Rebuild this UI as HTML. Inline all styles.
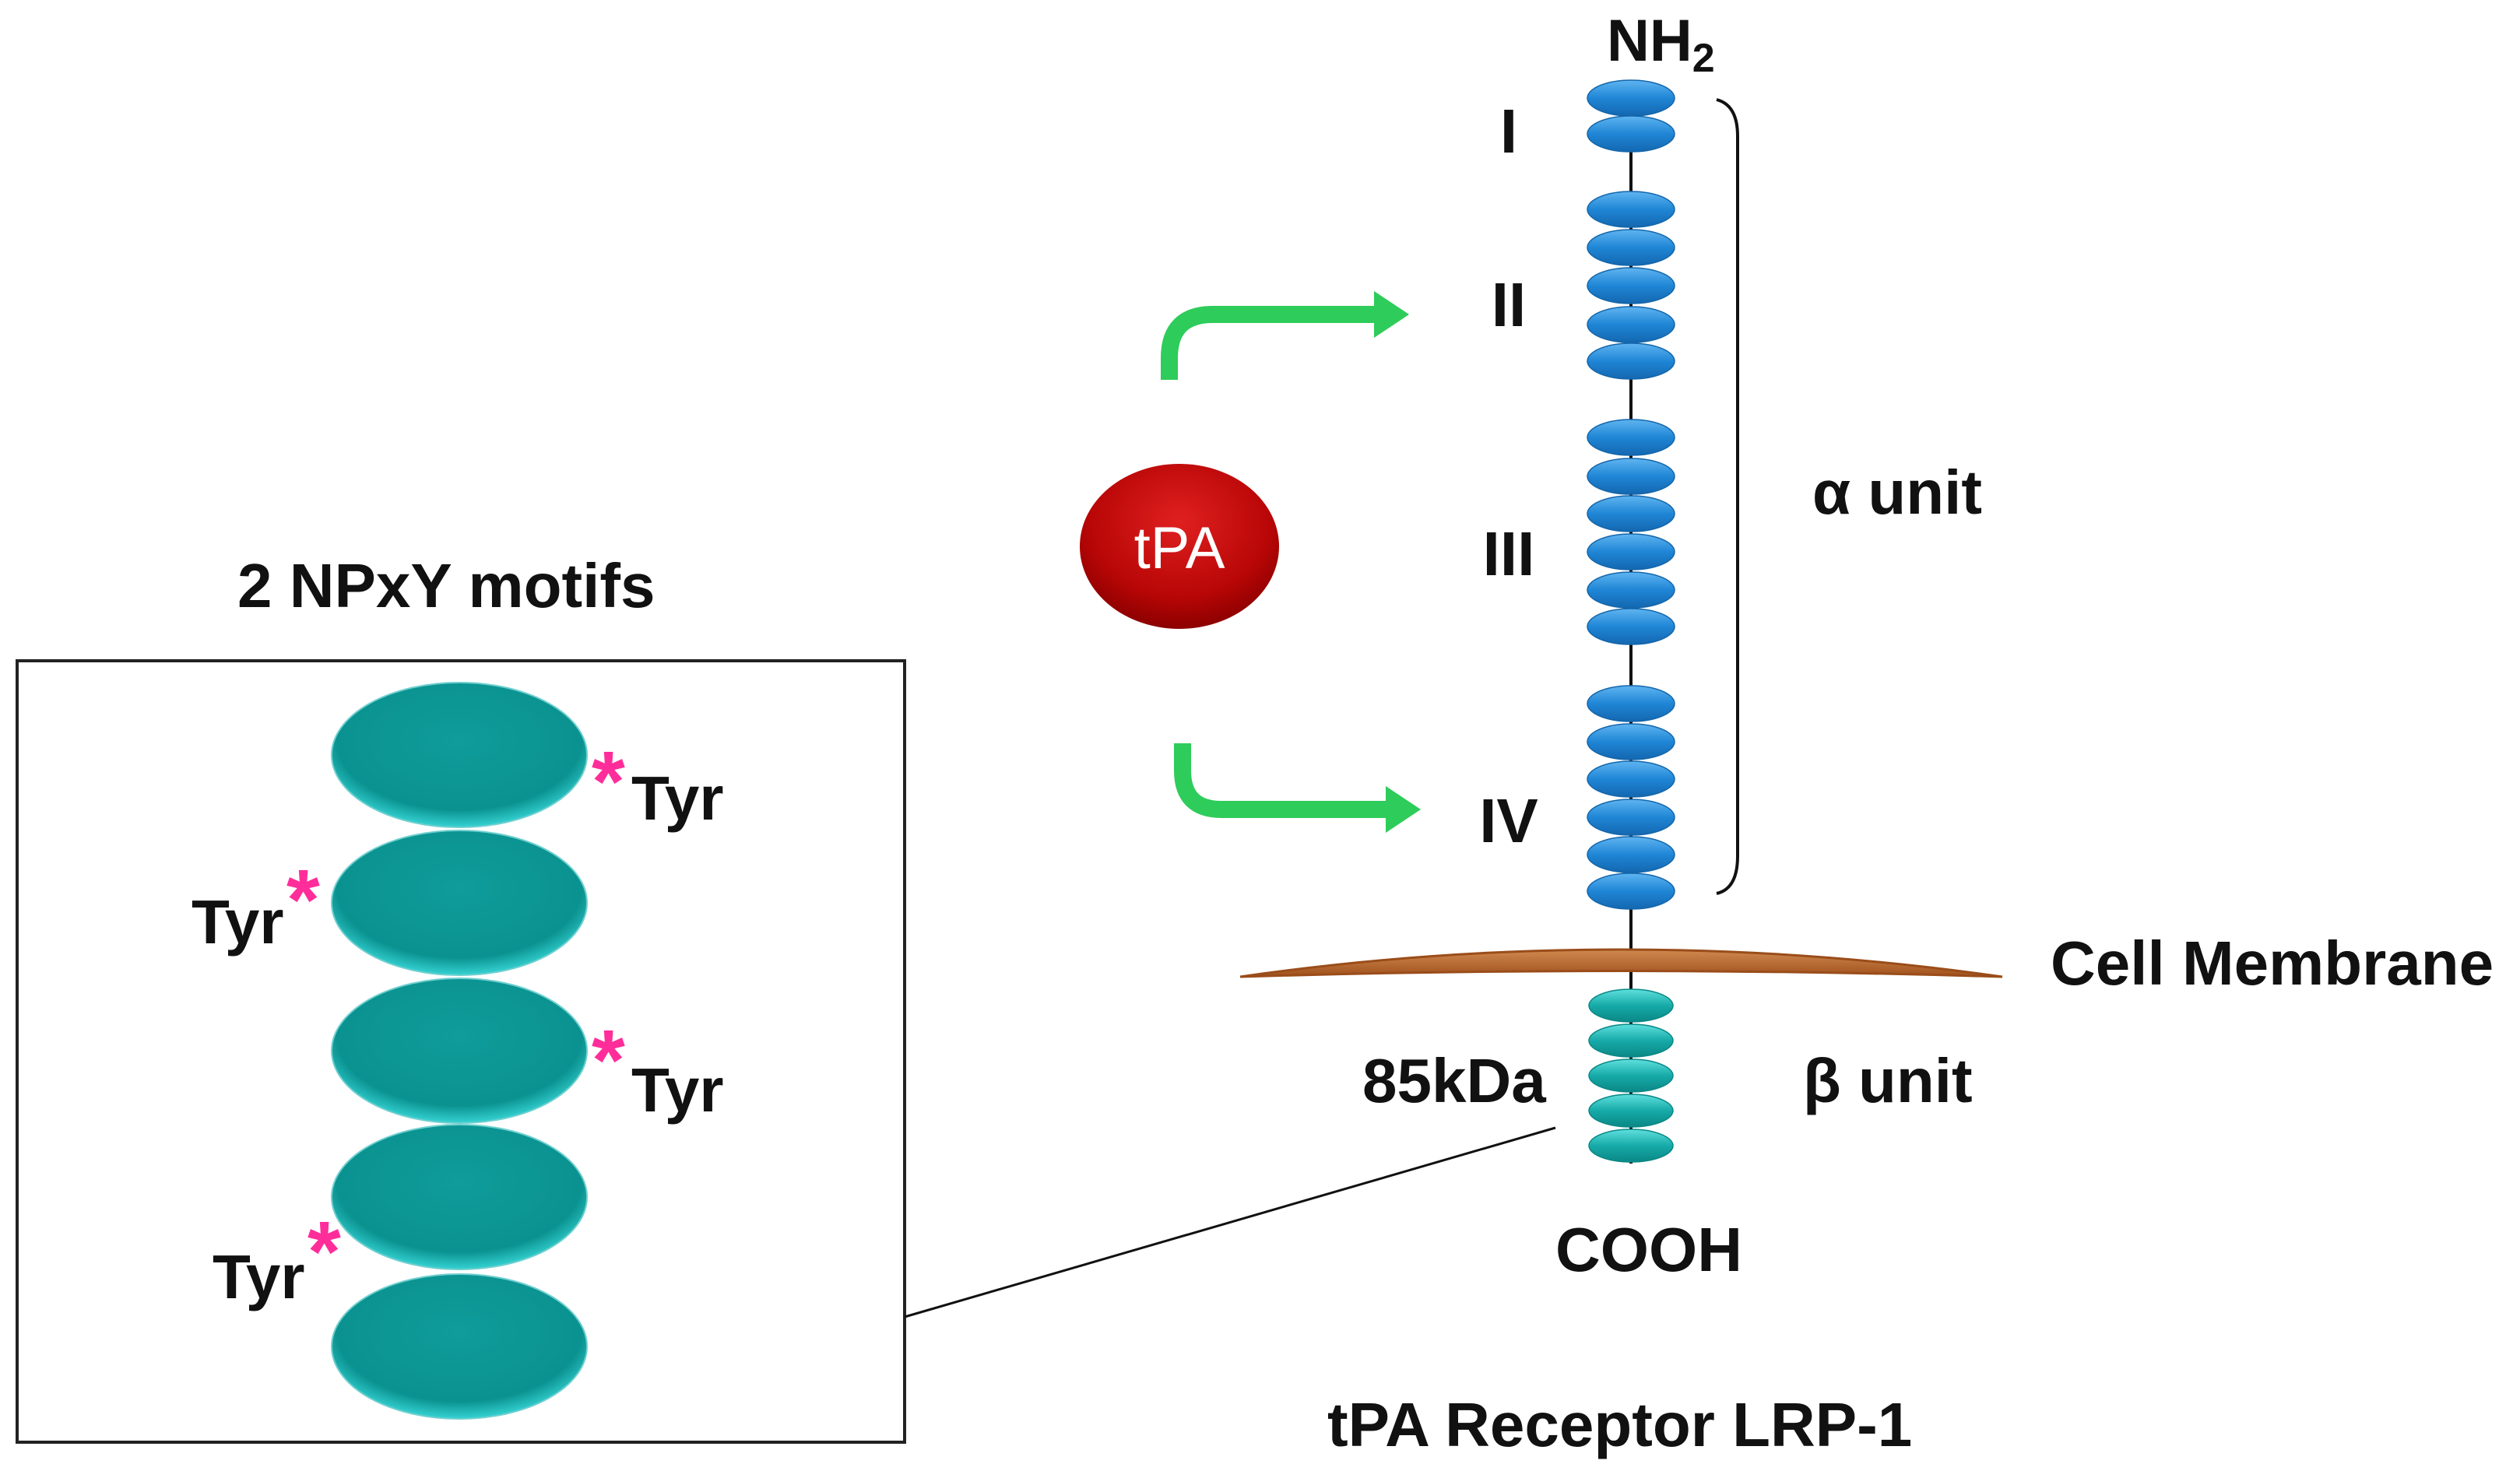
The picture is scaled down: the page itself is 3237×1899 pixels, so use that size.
<!DOCTYPE html>
<html><head><meta charset="utf-8"><style>
html,body{margin:0;padding:0;background:#fff;}
svg{display:block;}
text{font-family:"Liberation Sans",Arial,sans-serif;font-weight:bold;fill:#111;}
</style></head><body>
<svg width="3237" height="1899" viewBox="0 0 3237 1899" xmlns="http://www.w3.org/2000/svg">
<defs>
<radialGradient id="teal" cx="50%" cy="40%" r="60%"><stop offset="0" stop-color="#0f9c9a"/><stop offset="0.8" stop-color="#0a9290"/><stop offset="1" stop-color="#35d3d3"/></radialGradient>
<linearGradient id="blue" x1="0" y1="0" x2="0" y2="1"><stop offset="0" stop-color="#5fb4f0"/><stop offset="0.5" stop-color="#1f86d6"/><stop offset="1" stop-color="#1467b0"/></linearGradient>
<linearGradient id="tealS" x1="0" y1="0" x2="0" y2="1"><stop offset="0" stop-color="#5fe0de"/><stop offset="0.5" stop-color="#16aaa8"/><stop offset="1" stop-color="#0a8886"/></linearGradient>
<radialGradient id="red" cx="50%" cy="35%" r="65%"><stop offset="0" stop-color="#e02020"/><stop offset="0.7" stop-color="#b80606"/><stop offset="1" stop-color="#8c0000"/></radialGradient>
<linearGradient id="brown" x1="0" y1="0" x2="0" y2="1"><stop offset="0" stop-color="#d08a50"/><stop offset="1" stop-color="#a0501c"/></linearGradient>
</defs>

<rect x="22" y="849" width="1140" height="1004" fill="none" stroke="#222" stroke-width="4"/>
<text x="305" y="780" font-size="80">2 NPxY motifs</text>
<g fill="url(#teal)" stroke="#6fcfcf" stroke-width="2">
<ellipse cx="590" cy="970" rx="164" ry="93"/>
<ellipse cx="590" cy="1160" rx="164" ry="93"/>
<ellipse cx="590" cy="1350" rx="164" ry="93"/>
<ellipse cx="590" cy="1538" rx="164" ry="93"/>
<ellipse cx="590" cy="1730" rx="164" ry="93"/>
</g>
<g font-size="80">
<text x="811" y="1053">Tyr</text>
<text x="246" y="1212">Tyr</text>
<text x="811" y="1428">Tyr</text>
<text x="273" y="1668">Tyr</text>
</g>
<g font-size="110">
<text x="760" y="1042" style="fill:#ff2d9a">*</text>
<text x="368" y="1194" style="fill:#ff2d9a">*</text>
<text x="760" y="1400" style="fill:#ff2d9a">*</text>
<text x="395" y="1646" style="fill:#ff2d9a">*</text>
</g>
<line x1="1162" y1="1692" x2="1998" y2="1449" stroke="#111" stroke-width="3"/>

<line x1="2095" y1="110" x2="2095" y2="1495" stroke="#111" stroke-width="4"/>
<path d="M1593 1255 Q2080 1185 2572 1255 Q2080 1240 1593 1255 Z" fill="url(#brown)" stroke="#9a4d1a" stroke-width="3"/>
<g fill="url(#blue)" stroke="#1466aa" stroke-width="1.5">
<ellipse cx="2095" cy="126" rx="56" ry="23"/><ellipse cx="2095" cy="172" rx="56" ry="23"/>
<ellipse cx="2095" cy="269" rx="56" ry="23"/><ellipse cx="2095" cy="318" rx="56" ry="23"/><ellipse cx="2095" cy="367" rx="56" ry="23"/><ellipse cx="2095" cy="417" rx="56" ry="23"/><ellipse cx="2095" cy="464" rx="56" ry="23"/>
<ellipse cx="2095" cy="562" rx="56" ry="23"/><ellipse cx="2095" cy="612" rx="56" ry="23"/><ellipse cx="2095" cy="660" rx="56" ry="23"/><ellipse cx="2095" cy="709" rx="56" ry="23"/><ellipse cx="2095" cy="758" rx="56" ry="23"/><ellipse cx="2095" cy="805" rx="56" ry="23"/>
<ellipse cx="2095" cy="904" rx="56" ry="23"/><ellipse cx="2095" cy="953" rx="56" ry="23"/><ellipse cx="2095" cy="1001" rx="56" ry="23"/><ellipse cx="2095" cy="1050" rx="56" ry="23"/><ellipse cx="2095" cy="1098" rx="56" ry="23"/><ellipse cx="2095" cy="1145" rx="56" ry="23"/>
</g>
<g fill="url(#tealS)" stroke="#0a8886" stroke-width="1.5">
<ellipse cx="2095" cy="1292" rx="54" ry="21"/><ellipse cx="2095" cy="1337" rx="54" ry="21"/><ellipse cx="2095" cy="1382" rx="54" ry="21"/><ellipse cx="2095" cy="1427" rx="54" ry="21"/><ellipse cx="2095" cy="1472" rx="54" ry="21"/>
</g>
<path d="M2205 128 Q2232 135 2232 175 L2232 1100 Q2232 1142 2205 1148" fill="none" stroke="#111" stroke-width="4"/>

<text x="2064" y="78" font-size="76">NH<tspan font-size="52" dy="14">2</tspan></text>
<g font-size="80" text-anchor="middle">
<text x="1938" y="196">I</text>
<text x="1938" y="419">II</text>
<text x="1938" y="739">III</text>
<text x="1938" y="1082">IV</text>
</g>
<text x="2328" y="660" font-size="80">α unit</text>
<text x="2634" y="1265" font-size="80">Cell Membrane</text>
<text x="1750" y="1416" font-size="80">85kDa</text>
<text x="2316" y="1416" font-size="80">β unit</text>
<text x="1998" y="1633" font-size="80">COOH</text>
<text x="1705" y="1858" font-size="80">tPA Receptor LRP-1</text>

<ellipse cx="1515" cy="702" rx="128" ry="106" fill="url(#red)"/>
<text x="1515" y="730" font-size="76" text-anchor="middle" style="font-weight:normal;fill:#fff">tPA</text>

<g fill="none" stroke="#2ecc5a" stroke-width="22">
<path d="M1502 488 L1502 460 Q1502 404 1558 404 L1775 404"/>
<path d="M1519 955 L1519 990 Q1519 1040 1569 1040 L1790 1040"/>
</g>
<polygon points="1765,374 1810,404 1765,434" fill="#2ecc5a"/>
<polygon points="1780,1010 1825,1040 1780,1070" fill="#2ecc5a"/>
</svg>
</body></html>
